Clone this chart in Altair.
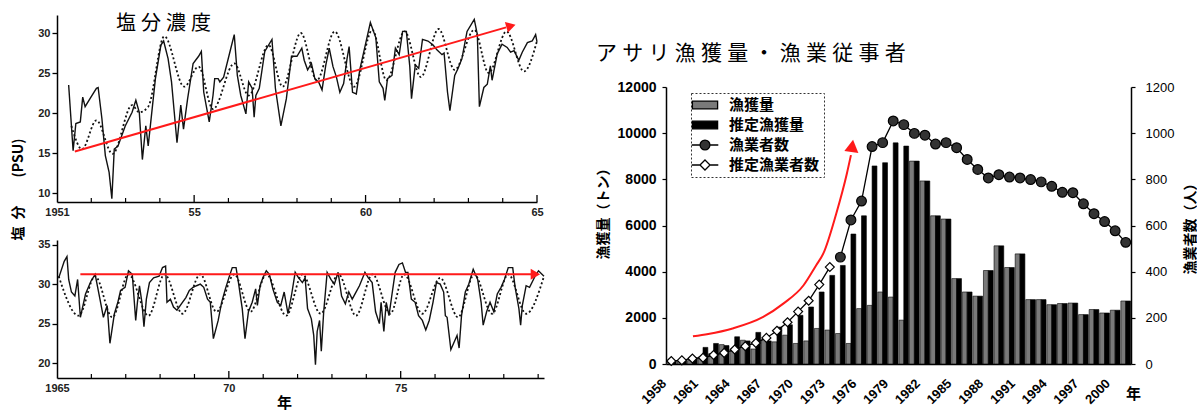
import altair as alt
import pandas as pd

# ===================== LEFT: salinity (PSU) =====================
# 1951-1965: observed (solid) [year, PSU]
top_obs = [(1951.34,23.5),(1951.47,15.3),(1951.55,18.7),(1951.68,18.9),(1951.75,22.0),(1951.82,20.8),(1951.99,22.0),(1952.15,23.1),(1952.20,23.2),(1952.31,19.3),(1952.41,14.7),(1952.52,12.6),(1952.60,9.3),(1952.67,15.5),(1952.78,15.9),(1952.99,18.4),(1953.19,20.1),(1953.30,21.6),(1953.40,20.1),(1953.49,14.2),(1953.59,18.4),(1953.66,15.9),(1953.87,24.3),(1954.03,28.5),(1954.11,29.0),(1954.24,26.8),(1954.34,23.9),(1954.42,20.1),(1954.50,16.3),(1954.61,21.0),(1954.69,18.0),(1954.81,21.8),(1954.97,26.2),(1955.13,27.1),(1955.21,27.7),(1955.28,22.6),(1955.44,18.9),(1955.55,22.2),(1955.60,24.3),(1955.70,24.3),(1955.75,23.9),(1955.86,24.5),(1956.07,28.1),(1956.17,29.8),(1956.26,24.7),(1956.36,22.2),(1956.51,19.9),(1956.59,23.9),(1956.69,23.1),(1956.75,19.5),(1956.80,22.2),(1956.90,23.1),(1957.06,27.7),(1957.27,29.2),(1957.37,23.1),(1957.53,18.4),(1957.69,21.8),(1957.84,27.1),(1958.00,27.1),(1958.14,28.1),(1958.21,26.6),(1958.31,25.4),(1958.42,26.2),(1958.52,24.3),(1958.63,23.9),(1958.73,22.9),(1958.84,26.0),(1958.94,28.1),(1959.05,25.8),(1959.15,24.5),(1959.25,22.6),(1959.36,23.7),(1959.46,26.8),(1959.52,28.3),(1959.62,22.6),(1959.73,22.4),(1959.83,25.4),(1959.93,27.3),(1960.14,31.3),(1960.30,29.4),(1960.40,23.9),(1960.51,23.1),(1960.56,21.6),(1960.64,24.3),(1960.77,24.7),(1960.87,28.1),(1960.98,27.3),(1961.08,30.2),(1961.19,30.2),(1961.29,25.8),(1961.34,21.8),(1961.45,26.0),(1961.55,25.6),(1961.66,29.2),(1961.82,29.0),(1961.97,28.5),(1962.08,27.9),(1962.23,27.3),(1962.29,27.5),(1962.39,22.6),(1962.46,20.3),(1962.60,24.7),(1962.70,25.6),(1962.81,26.8),(1962.96,30.2),(1963.17,31.7),(1963.26,29.8),(1963.32,20.8),(1963.45,23.2),(1963.55,23.6),(1963.64,25.9),(1963.69,24.1),(1963.84,27.4),(1963.98,28.6),(1964.13,28.2),(1964.23,27.6),(1964.33,27.8),(1964.47,26.6),(1964.57,27.6),(1964.72,28.8),(1964.86,29.0),(1964.96,29.8),(1965.00,28.9)]
# 1951-1965: seasonal curve (dotted), turning points [year, PSU]
top_fit = [(1951.42,18.4),(1951.73,15.5),(1952.15,19.1),(1952.62,14.9),(1953.19,21.0),(1953.40,20.1),(1953.66,20.8),(1954.13,29.6),(1954.71,23.3),(1955.13,25.8),(1955.55,20.5),(1956.17,26.2),(1956.59,22.2),(1957.17,28.5),(1957.58,23.3),(1958.11,30.0),(1958.58,24.1),(1959.10,30.2),(1959.67,23.3),(1960.20,30.4),(1960.61,24.1),(1961.14,30.2),(1961.61,24.5),(1962.13,30.5),(1962.60,25.4),(1963.17,30.4),(1963.59,25.0),(1964.11,30.2),(1964.62,25.2),(1965.00,29.0)]
top_trend = [(1951.52,15.2),(1964.10,30.70)]
top_head = [(1964.24,30.87)]

# 1965-1979: observed (solid)
bot_obs = [(1965.05,30.8),(1965.21,32.9),(1965.29,33.5),(1965.34,30.6),(1965.42,29.0),(1965.52,28.5),(1965.60,30.6),(1965.68,25.8),(1965.83,28.75),(1965.99,30.4),(1966.11,31.25),(1966.25,28.1),(1966.35,25.8),(1966.46,27.3),(1966.54,22.5),(1966.67,26.25),(1966.77,27.7),(1966.85,29.2),(1966.98,29.6),(1967.08,31.7),(1967.19,31.25),(1967.29,25.4),(1967.34,27.7),(1967.40,29.8),(1967.47,27.7),(1967.53,24.6),(1967.60,28.1),(1967.69,30.2),(1967.81,30.8),(1967.97,31.0),(1968.07,32.1),(1968.16,32.3),(1968.20,27.7),(1968.30,28.1),(1968.39,27.1),(1968.49,26.7),(1968.65,27.7),(1968.75,28.3),(1968.85,29.2),(1968.96,29.6),(1969.06,29.8),(1969.17,30.0),(1969.27,29.6),(1969.38,28.1),(1969.46,27.7),(1969.55,23.1),(1969.69,25.4),(1969.79,27.7),(1969.90,29.4),(1970.00,30.8),(1970.10,32.1),(1970.21,32.1),(1970.28,30.2),(1970.39,26.9),(1970.47,23.1),(1970.57,26.5),(1970.68,27.7),(1970.78,29.4),(1970.83,27.3),(1970.91,29.8),(1970.99,30.8),(1971.09,31.7),(1971.18,31.25),(1971.28,29.4),(1971.41,27.7),(1971.51,27.3),(1971.61,29.0),(1971.72,26.25),(1971.82,28.5),(1971.93,31.5),(1972.03,30.8),(1972.14,30.2),(1972.22,30.8),(1972.29,26.9),(1972.40,25.6),(1972.47,23.5),(1972.52,19.8),(1972.57,24.0),(1972.64,25.4),(1972.69,21.5),(1972.76,26.5),(1972.86,31.5),(1972.97,30.6),(1973.07,30.0),(1973.18,31.5),(1973.28,28.5),(1973.39,27.5),(1973.49,29.0),(1973.59,28.1),(1973.70,29.0),(1973.80,29.8),(1973.96,31.5),(1974.06,30.8),(1974.17,30.2),(1974.27,26.5),(1974.38,25.0),(1974.43,27.7),(1974.51,24.0),(1974.58,27.7),(1974.66,26.0),(1974.74,28.5),(1974.84,31.5),(1974.95,32.5),(1975.05,32.7),(1975.14,31.5),(1975.21,31.5),(1975.31,28.1),(1975.42,27.7),(1975.52,26.0),(1975.63,25.4),(1975.73,24.2),(1975.83,25.4),(1975.94,27.7),(1976.04,30.2),(1976.15,30.0),(1976.25,29.0),(1976.30,26.0),(1976.35,25.8),(1976.46,21.7),(1976.56,22.7),(1976.64,23.5),(1976.70,21.9),(1976.77,26.0),(1976.88,29.0),(1976.98,30.0),(1977.11,31.9),(1977.24,30.6),(1977.34,27.7),(1977.40,24.8),(1977.50,26.5),(1977.60,27.7),(1977.71,26.5),(1977.81,28.75),(1977.92,29.6),(1978.02,30.6),(1978.13,32.1),(1978.26,32.1),(1978.33,29.6),(1978.44,26.9),(1978.49,24.8),(1978.54,27.3),(1978.65,29.8),(1978.75,29.6),(1978.91,31.0),(1979.01,31.7),(1979.17,31.0)]
bot_fit = [(1965.05,31.0),(1965.63,26.0),(1966.11,31.0),(1966.61,25.8),(1967.08,31.25),(1967.66,26.0),(1968.13,31.25),(1968.65,26.25),(1969.17,31.25),(1969.64,26.5),(1970.16,31.25),(1970.63,26.5),(1971.09,31.25),(1971.67,26.0),(1972.14,31.25),(1972.67,26.25),(1973.19,31.25),(1973.70,26.0),(1974.18,31.25),(1974.70,26.25),(1975.10,31.25),(1975.63,26.25),(1976.15,30.8),(1976.67,25.8),(1977.14,31.25),(1977.66,26.25),(1978.13,31.25),(1978.65,26.25),(1979.17,31.0)]
bot_trend = [(1965.68,31.25),(1978.80,31.25)]
bot_head = [(1978.92,31.25)]

top_minor_ticks = [1952,1953,1954,1956,1957,1958,1959,1961,1962,1963,1964]
top_major_ticks = [1955,1960,1965]
bot_minor_ticks = [1966,1967,1968,1969,1971,1972,1973,1974,1976,1977,1978,1979]
bot_major_ticks = [1970,1975]

# ===================== RIGHT: clam catch & fishers =====================
years = list(range(1958, 2002))
catch_t = [80,100,150,300,450,840,550,1030,650,1060,960,1250,890,1000,1540,1470,1320,890,2400,2540,3120,2900,1900,
           8790,7930,6420,6280,3700,3120,2940,4050,5120,4180,4770,2790,2790,2570,2620,2640,2140,2360,2210,2330,2730]
est_catch_t = [130,160,260,720,890,800,1180,1000,1370,1000,1600,1700,2110,2470,3120,3840,4270,5630,6420,8580,8720,9580,9440,
               8790,7930,6420,6280,3700,3120,2940,4050,5120,4180,4770,2790,2790,2570,2620,2640,2140,2360,2210,2330,2730]
est_fisher_years = list(range(1958, 1974))
est_fishers = [13,16,24,27,39,48,63,77,91,113,144,181,227,274,344,420]
fisher_years = list(range(1974, 2002))
fishers = [463,624,706,942,959,1053,1037,999,991,953,959,937,886,843,806,820,810,806,799,789,770,744,742,694,651,617,577,527]
arrow_year = [1960.05,1961.5,1963.8,1966.7,1968.6,1970.5,1971.7,1972.4,1973.6,1974.6,1975.0]
arrow_t = [1200,1300,1540,2040,2615,3400,4270,4800,6500,8220,9050]
arrow_head_year = [1975.12]
arrow_head_t = [9450]

series_names = ["漁獲量", "推定漁獲量", "漁業者数", "推定漁業者数"]
left_title = "塩\u2005分\u2005濃\u2005度"
right_title = "ア\u2005サ\u2005リ\u2005漁\u2005獲\u2005量\u2005・\u2005漁\u2005業\u2005従\u2005事\u2005者"

NUM = "Liberation Sans, Arial, sans-serif"
JP = "Noto Sans CJK JP, sans-serif"
RED = "#ff1a1a"
ONE = pd.DataFrame({"k": [0]})


def df_pairs(pairs):
    return pd.DataFrame(pairs, columns=["year", "psu"])


# ---------------- left panels ----------------
def salinity_panel(obs, fit, trend, head, head_angle, xdom, ydom, yvals, xvals, minor, major,
                   width, height, first_label, yaxis_title=None, xaxis_title=None, title=None):
    xscale = alt.Scale(domain=xdom, nice=False, zero=False)
    yscale = alt.Scale(domain=ydom, nice=False, zero=False)
    xaxis_kw = dict(values=xvals,
                    labelExpr=f"datum.value == {first_label} ? '{first_label}' : substring(toString(datum.value), 2)",
                    ticks=False, labelFont=NUM, labelFontSize=11, labelFontWeight="bold", labelPadding=4,
                    labelFlush=False, domainWidth=1.5, labelColor="#222")
    if xaxis_title:
        xaxis_kw.update(title=xaxis_title, titleX=227, titleY=24, titleAngle=0, titleAlign="center",
                        titleBaseline="middle", titleFont=JP, titleFontSize=15, titleFontWeight="bold")
    else:
        xaxis_kw.update(title=None)
    yaxis_kw = dict(values=yvals, tickSize=5, tickWidth=1.3, labelFont=NUM, labelFontSize=11,
                    labelFontWeight="bold", labelPadding=2, domainWidth=1.5, labelColor="#222")
    if yaxis_title:
        yaxis_kw.update(title=yaxis_title, titleAngle=270, titleX=-39, titleY=174, titleAlign="center",
                        titleBaseline="middle", titleFont=JP, titleFontSize=14, titleFontWeight="bold")
    else:
        yaxis_kw.update(title=None)
    x = alt.X("year:Q", scale=xscale, axis=alt.Axis(**xaxis_kw))
    y = alt.Y("psu:Q", scale=yscale, axis=alt.Axis(**yaxis_kw))

    obs_l = alt.Chart(df_pairs(obs)).mark_line(color="#111", strokeWidth=1.4).encode(x=x, y=y)
    fit_l = alt.Chart(df_pairs(fit)).mark_line(color="#111", strokeWidth=1.8, strokeDash=[2, 2.4],
                                               interpolate="monotone").encode(x=x, y=y)
    trend_l = alt.Chart(df_pairs(trend)).mark_line(color=RED, strokeWidth=2).encode(x=x, y=y)
    head_p = alt.Chart(df_pairs(head)).mark_point(shape="triangle-right", filled=True, color=RED,
                                                  size=120, angle=head_angle, opacity=1).encode(x=x, y=y)
    minor_r = alt.Chart(pd.DataFrame({"year": minor})).mark_rule(color="black", strokeWidth=1.2).encode(
        x=alt.X("year:Q"), y=alt.value(height), y2=alt.value(height - 4))
    major_r = alt.Chart(pd.DataFrame({"year": major})).mark_rule(color="black", strokeWidth=1.3).encode(
        x=alt.X("year:Q"), y=alt.value(height), y2=alt.value(height - 7))
    layers = [minor_r, major_r, fit_l, obs_l, trend_l, head_p]
    if title is not None:
        layers.append(alt.Chart(ONE).mark_text(align="left", baseline="middle", font=JP, fontSize=20,
                                               color="black").encode(
            x=alt.value(59), y=alt.value(9), text=alt.value(title)))
    return alt.layer(*layers).properties(width=width, height=height)


top = salinity_panel(top_obs, top_fit, top_trend, top_head, 344, [1951, 1965], [8.9, 32.25],
                     [10, 15, 20, 25, 30], [1951, 1955, 1960, 1965], top_minor_ticks, top_major_ticks,
                     480, 187, 1951, yaxis_title="塩\u2002分\u3000\u3000(PSU)", title=left_title)
bottom = salinity_panel(bot_obs, bot_fit, bot_trend, bot_head, 0, [1965, 1979.17], [18.1, 35.6],
                        [20, 25, 30, 35], [1965, 1970, 1975], bot_minor_ticks, bot_major_ticks,
                        487, 138, 1965, xaxis_title="年")

left_col = alt.vconcat(top, bottom, spacing=38, bounds="flush")

# ---------------- right chart ----------------
bars_rows = []
for yr, c, e in zip(years, catch_t, est_catch_t):
    bars_rows.append({"year": yr, "series": "漁獲量", "t": c})
    bars_rows.append({"year": yr, "series": "推定漁獲量", "t": e})
bars_df = pd.DataFrame(bars_rows)
est_df = pd.DataFrame({"year": est_fisher_years, "n": est_fishers})
fis_df = pd.DataFrame({"year": fisher_years, "n": fishers})
arrow_df = pd.DataFrame({"year": arrow_year, "t": arrow_t})
head_df = pd.DataFrame({"year": arrow_head_year, "t": arrow_head_t})

x_axis = alt.Axis(values=list(range(1958, 2001, 3)), labelAngle=315, labelAlign="right", labelBaseline="middle",
                  labelPadding=17, labelOffset=-7, labelFont=NUM, labelFontSize=13, labelFontWeight="bold",
                  ticks=False, domainWidth=1.5, title="年", titleX=467, titleY=29, titleAngle=0,
                  titleAlign="center", titleBaseline="middle", titleFont=JP, titleFontSize=15,
                  titleFontWeight="bold")
x_band = alt.X("year:O", scale=alt.Scale(paddingInner=0.08, paddingOuter=0.04), axis=x_axis)

y_left = alt.Y("t:Q", scale=alt.Scale(domain=[0, 12000], nice=False),
               axis=alt.Axis(values=list(range(0, 12001, 2000)), format="d", title="漁獲量（トン）",
                             titleAngle=270, titleX=-63, titleY=123, titleAlign="center", titleBaseline="middle",
                             titleFont=JP, titleFontSize=14, titleFontWeight="bold", labelFont=NUM,
                             labelFontSize=14, labelFontWeight="bold", tickSize=4, labelPadding=6,
                             domainWidth=1.5, tickWidth=1.2))
y_right = alt.Y("n:Q", scale=alt.Scale(domain=[0, 1200], nice=False),
                axis=alt.Axis(orient="right", values=list(range(0, 1201, 200)), format="d", title="漁業者数（人）",
                              titleAngle=270, titleX=59, titleY=138, titleAlign="center", titleBaseline="middle",
                              titleFont=JP, titleFontSize=14, titleFontWeight="bold", labelFont=NUM,
                              labelFontSize=13, tickSize=4, labelPadding=10, domainWidth=1.5, tickWidth=1.2))

fill_scale = alt.Scale(domain=series_names, range=["#7a7a7a", "#000000", "#333333", "#ffffff"])
shape_scale = alt.Scale(domain=series_names, range=[
    "M-1.8,-0.55H1.8V0.55H-1.8Z",
    "M-1.8,-0.55H1.8V0.55H-1.8Z",
    "M-1.9,0H-0.7M0.7,0H1.9M0.7,0A0.7,0.7,0,1,1,-0.7,0A0.7,0.7,0,1,1,0.7,0Z",
    "M-1.9,0H-0.7M0.7,0H1.9M0,-0.72L0.72,0L0,0.72L-0.72,0Z",
])
# legend symbols take their black stroke from the marks themselves
leg = alt.Legend(title=None, orient="none", legendX=25, legendY=6, padding=4, strokeColor="#333",
                 fillColor="white", symbolSize=196, symbolStrokeWidth=1.3,
                 symbolOpacity=1, symbolOffset=2, labelOffset=16, labelFont=JP, labelFontSize=15,
                 labelFontWeight="bold", rowPadding=4, labelLimit=300)

bars = alt.Chart(bars_df).mark_bar(stroke="black", strokeWidth=0.6, opacity=1).encode(
    x=x_band,
    xOffset=alt.XOffset("series:N", scale=alt.Scale(domain=["漁獲量", "推定漁獲量"])),
    y=y_left,
    fill=alt.Fill("series:N", scale=fill_scale, legend=leg),
)
# empty layer that only adds the shape channel to the same (merged) legend
legend_layer = alt.Chart(bars_df).transform_filter("false").mark_point(
    filled=True, stroke="black", strokeWidth=1.3, opacity=1).encode(
    x=x_band, y=y_left,
    fill=alt.Fill("series:N", scale=fill_scale, legend=leg),
    shape=alt.Shape("series:N", scale=shape_scale, legend=leg),
)
bars_group = alt.layer(bars, legend_layer)

line_est = alt.Chart(est_df).mark_line(color="black", strokeWidth=1.3).encode(x=x_band, y=y_right)
line_fis = alt.Chart(fis_df).mark_line(color="black", strokeWidth=1.3).encode(x=x_band, y=y_right)
pts_est = alt.Chart(est_df).mark_point(shape="diamond", filled=True, fill="white", stroke="black",
                                       strokeWidth=1.2, size=80, opacity=1).encode(x=x_band, y=y_right)
pts_fis = alt.Chart(fis_df).mark_point(shape="circle", filled=True, fill="#333333", stroke="black",
                                       strokeWidth=1.2, size=95, opacity=1).encode(x=x_band, y=y_right)
right_group = alt.layer(line_est, line_fis, pts_est, pts_fis)

inner = alt.layer(bars_group, right_group).resolve_scale(y="independent")

x_lin = alt.X("year:Q", scale=alt.Scale(domain=[1957.5, 2001.5], nice=False, zero=False), axis=None)
y_lin = alt.Y("t:Q", scale=alt.Scale(domain=[0, 12000], nice=False), axis=None)
red_line = alt.Chart(arrow_df).mark_line(color=RED, strokeWidth=2, interpolate="monotone").encode(x=x_lin, y=y_lin)
red_head = alt.Chart(head_df).mark_point(shape="triangle-up", filled=True, color=RED, size=200, angle=8,
                                         opacity=1).encode(x=x_lin, y=y_lin)
title_txt = alt.Chart(ONE).mark_text(align="left", baseline="middle", font=JP, fontSize=21,
                                     color="black").encode(x=alt.value(-70), y=alt.value(-33),
                                                           text=alt.value(right_title))
red_group = alt.layer(red_line, red_head, title_txt)

right_chart = alt.layer(inner, red_group).resolve_scale(x="independent", y="independent").properties(
    width=465, height=277)

spacer = alt.Chart(ONE).mark_rule(opacity=0).encode(
    x=alt.value(0), x2=alt.value(465), y=alt.value(0)).properties(width=465, height=72)

right_col = alt.vconcat(spacer, right_chart, spacing=0, bounds="flush").resolve_scale(
    fill="independent", shape="independent").resolve_legend(fill="independent", shape="independent")

chart = alt.hconcat(left_col, right_col, spacing=48).resolve_scale(
    fill="independent", shape="independent").resolve_legend(fill="independent", shape="independent").properties(
    padding={"left": 11, "top": 14, "right": 0, "bottom": 0}
).configure_view(stroke=None).configure_axis(
    grid=False, domainColor="black", tickColor="black", labelColor="black", titleColor="black"
).configure_legend(strokeDash=[2, 2], strokeWidth=1)

chart.save("out.html", embed_options={"renderer": "svg", "actions": False})
